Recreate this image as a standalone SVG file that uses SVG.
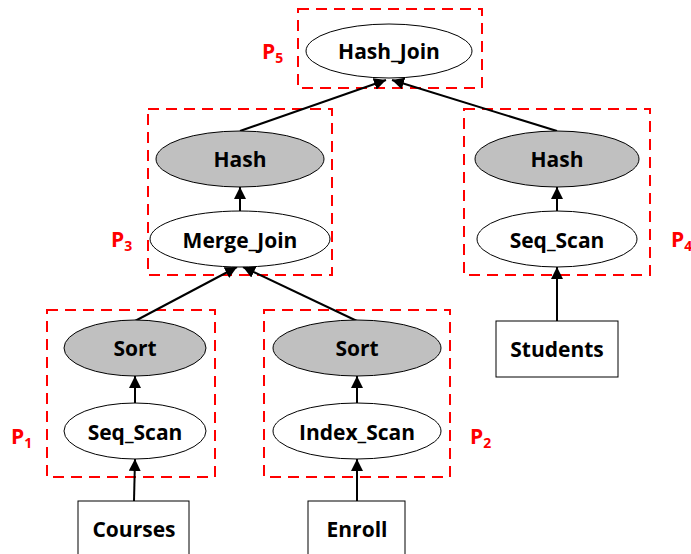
<svg xmlns="http://www.w3.org/2000/svg" width="691" height="554" viewBox="0 0 691 554">
<style>
.part{fill:none;stroke:#ff0000;stroke-width:2;stroke-dasharray:11,7}
.op{fill:#ffffff;stroke:#000;stroke-width:1}
.op.g{fill:#c0c0c0}
.tb{fill:#ffffff;stroke:#000;stroke-width:1}
.t{font-family:"Open Sans","Liberation Sans",sans-serif;font-weight:bold;font-size:21px;fill:#000;text-anchor:middle;dominant-baseline:central}
.p{font-family:"Open Sans","Liberation Sans",sans-serif;font-weight:bold;font-size:21px;fill:#ff0000}
.p tspan{font-size:14px}
.e{stroke:#000;stroke-width:2;fill:none;marker-end:url(#ah)}
</style>
<defs>
<marker id="ah" viewBox="0 0 10 10" refX="10" refY="5" markerWidth="6" markerHeight="6" markerUnits="strokeWidth" orient="auto">
<path d="M0,0 L10,5 L0,10 z" fill="#000"/>
</marker>
</defs>
<rect width="691" height="554" fill="#fff"/>
<g id="partitions">
<rect class="part" x="298" y="9" width="184" height="79"/>
<rect class="part" x="148" y="109" width="184" height="166"/>
<rect class="part" x="464" y="109" width="186" height="166"/>
<rect class="part" x="47" y="310" width="168" height="167"/>
<rect class="part" x="264" y="310" width="186" height="167"/>
<text class="p" x="262" y="59">P<tspan dy="4">5</tspan></text>
<text class="p" x="111" y="247">P<tspan dy="4">3</tspan></text>
<text class="p" x="671" y="247">P<tspan dy="4">4</tspan></text>
<text class="p" x="11" y="444">P<tspan dy="4">1</tspan></text>
<text class="p" x="470" y="444">P<tspan dy="4">2</tspan></text>
</g>
<g id="connectors">
<line class="e" x1="240" y1="131" x2="386" y2="80"/>
<line class="e" x1="557" y1="131" x2="392" y2="80"/>
<line class="e" x1="240" y1="212" x2="240" y2="187"/>
<line class="e" x1="557" y1="212" x2="557" y2="187"/>
<line class="e" x1="557" y1="321" x2="557" y2="267"/>
<line class="e" x1="135" y1="321" x2="237" y2="267"/>
<line class="e" x1="357" y1="321" x2="243" y2="267"/>
<line class="e" x1="135" y1="404" x2="135" y2="376"/>
<line class="e" x1="357" y1="404" x2="357" y2="376"/>
<line class="e" x1="134" y1="501" x2="135" y2="459"/>
<line class="e" x1="357" y1="501" x2="357" y2="459"/>
</g>
<g id="hash_join"><ellipse class="op" cx="389" cy="51" rx="83" ry="27"/><text class="t" x="389" y="51">Hash_Join</text></g>
<g id="hash_left"><ellipse class="op g" cx="240" cy="159" rx="84" ry="28"/><text class="t" x="240" y="159">Hash</text></g>
<g id="merge_join"><ellipse class="op" cx="240" cy="239" rx="90" ry="28"/><text class="t" x="240" y="240">Merge_Join</text></g>
<g id="hash_right"><ellipse class="op g" cx="557" cy="159" rx="82" ry="28"/><text class="t" x="557" y="159">Hash</text></g>
<g id="seq_scan_right"><ellipse class="op" cx="557" cy="239" rx="80" ry="28"/><text class="t" x="557" y="240">Seq_Scan</text></g>
<g id="students"><rect class="tb" x="496" y="321" width="122" height="56"/><text class="t" x="557" y="349">Students</text></g>
<g id="sort_left"><ellipse class="op g" cx="135" cy="348" rx="71" ry="28"/><text class="t" x="135" y="348">Sort</text></g>
<g id="seq_scan_left"><ellipse class="op" cx="135" cy="431" rx="71" ry="28"/><text class="t" x="135" y="432">Seq_Scan</text></g>
<g id="courses"><rect class="tb" x="78" y="501" width="111" height="60"/><text class="t" x="134" y="529">Courses</text></g>
<g id="sort_right"><ellipse class="op g" cx="357" cy="348" rx="84" ry="28"/><text class="t" x="357" y="348">Sort</text></g>
<g id="index_scan"><ellipse class="op" cx="357" cy="431" rx="84" ry="28"/><text class="t" x="357" y="432">Index_Scan</text></g>
<g id="enroll"><rect class="tb" x="308" y="501" width="97" height="60"/><text class="t" x="357" y="529">Enroll</text></g>
</svg>
